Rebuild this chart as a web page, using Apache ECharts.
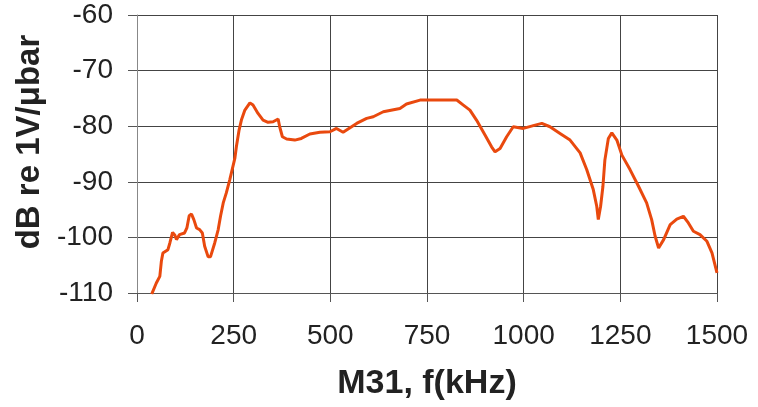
<!DOCTYPE html>
<html>
<head>
<meta charset="utf-8">
<script src="https://cdn.jsdelivr.net/npm/echarts@6/dist/echarts.min.js"></script>
<style>html,body{margin:0;padding:0;background:#fff;}#c{width:758px;height:407px;}</style>
</head>
<body>
<div id="c"></div>
<script>
const freqKHz = [38,50,59,63,67,80,85,92,98,102,110,123,129,135,141,147,154,162,169,175,184,190,201,210,216,223,231,240,253,257,264,270,279,292,300,313,326,339,352,365,369,376,387,408,425,447,473,499,516,533,546,568,594,611,637,680,697,732,775,827,844,861,878,900,917,926,939,956,973,999,1025,1047,1068,1094,1120,1146,1163,1180,1189,1193,1199,1205,1210,1219,1228,1241,1254,1275,1297,1318,1331,1340,1349,1362,1379,1396,1413,1426,1439,1456,1474,1487,1500];
const levelDb = [-110.2,-108.2,-107,-104.3,-102.8,-102.2,-101,-99.1,-99.6,-100.4,-99.5,-99.2,-98.3,-96.1,-95.8,-96.8,-98.3,-98.6,-99.2,-101.6,-103.5,-103.5,-101,-98.6,-96.2,-93.8,-92,-89.6,-85.8,-83.7,-80.7,-78.9,-77.1,-75.8,-76.2,-77.7,-78.9,-79.3,-79.2,-78.7,-80.1,-81.9,-82.3,-82.5,-82.2,-81.4,-81.1,-81,-80.4,-81.1,-80.5,-79.5,-78.6,-78.3,-77.4,-76.8,-76,-75.3,-75.3,-75.3,-76.2,-77.1,-78.9,-81.6,-83.7,-84.6,-84,-81.9,-80.1,-80.4,-79.9,-79.5,-80.1,-81.3,-82.5,-84.8,-87.8,-91.4,-94.4,-96.8,-94.4,-90.8,-86.1,-82.2,-81.2,-82.5,-85.2,-87.8,-90.8,-93.8,-96.8,-99.8,-101.9,-100.4,-97.7,-96.7,-96.2,-97.4,-98.9,-99.5,-100.7,-102.8,-106.4];
const xTicks = [0,250,500,750,1000,1250,1500];
const yTicks = [-110,-100,-90,-80,-70,-60];

const chart = echarts.init(document.getElementById('c'), null, {renderer:'canvas'});
const data = freqKHz.map((f,i)=>[f, levelDb[i]]);
const FONT = 'Liberation Sans, Arial, sans-serif';
chart.setOption({
  animation:false,
  backgroundColor:'#fff',
  grid:{left:137, right:41, top:15, bottom:114},
  xAxis:{
    type:'value', min:xTicks[0], max:xTicks[xTicks.length-1], interval:250,
    name:'M31, f(kHz)', nameLocation:'middle', nameGap:74,
    nameTextStyle:{fontFamily:FONT, fontWeight:'bold', fontSize:34, color:'#222'},
    axisLine:{onZero:false, lineStyle:{color:'#555', width:1}},
    axisTick:{show:true, inside:false, length:9, lineStyle:{color:'#555'}},
    axisLabel:{fontFamily:FONT, fontSize:28, color:'#222', margin:29, formatter:v=>String(v)},
    splitLine:{show:true, lineStyle:{color:'#444', width:1}}
  },
  yAxis:{
    type:'value', min:yTicks[0], max:yTicks[yTicks.length-1], interval:10,
    name:'dB re 1V/μbar', nameLocation:'middle', nameGap:90,
    nameTextStyle:{fontFamily:FONT, fontWeight:'bold', fontSize:33, color:'#222', padding:[0,0,0,24]},
    axisLine:{show:true, lineStyle:{color:'#888', width:1}},
    axisTick:{show:true, inside:false, length:9, lineStyle:{color:'#555'}},
    axisLabel:{fontFamily:FONT, fontSize:28, color:'#222', margin:24, formatter:v=>String(v)},
    splitLine:{show:true, lineStyle:{color:'#444', width:1}}
  },
  series:[{
    type:'line', data:data, showSymbol:false, symbol:'none',
    lineStyle:{color:'#E9490E', width:3}, z:5
  }]
});
</script>
</body>
</html>
